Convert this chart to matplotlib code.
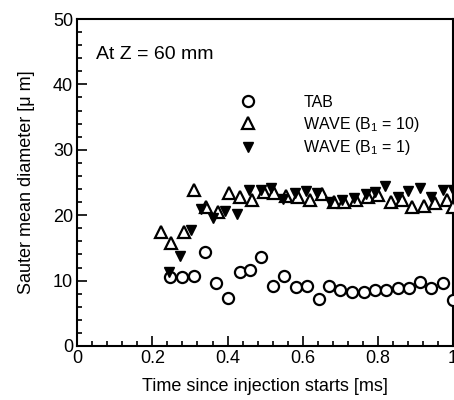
import matplotlib
matplotlib.use("Agg")
import matplotlib.pyplot as plt

plt.rcParams["font.family"] = ["Liberation Sans", "DejaVu Sans"]
plt.rcParams["mathtext.fontset"] = "custom"
plt.rcParams["mathtext.rm"] = "Liberation Sans"
plt.rcParams["mathtext.it"] = "Liberation Sans"

# TAB model (open circles)
tab_t = [0.247, 0.280, 0.312, 0.340, 0.369, 0.402, 0.432, 0.460, 0.490, 0.521,
         0.551, 0.581, 0.611, 0.642, 0.671, 0.700, 0.730, 0.763, 0.793, 0.822,
         0.853, 0.884, 0.912, 0.941, 0.973, 1.000]
tab_d = [10.6, 10.6, 10.7, 14.4, 9.7, 7.4, 11.3, 11.6, 13.6, 9.2,
         10.7, 9.0, 9.1, 7.2, 9.1, 8.5, 8.3, 8.3, 8.5, 8.5,
         8.8, 8.8, 9.8, 8.9, 9.7, 7.0]

# WAVE, B1 = 10 (open triangles)
wave10_t = [0.222, 0.250, 0.283, 0.312, 0.344, 0.375, 0.404, 0.434, 0.466, 0.497,
            0.524, 0.556, 0.588, 0.619, 0.651, 0.682, 0.710, 0.741, 0.773, 0.800,
            0.836, 0.863, 0.890, 0.922, 0.953, 0.985, 1.000]
wave10_d = [17.5, 15.7, 17.5, 23.8, 21.2, 20.5, 23.4, 22.8, 22.4, 23.6,
            23.4, 22.9, 22.8, 22.4, 23.3, 22.0, 22.0, 22.4, 22.8, 23.1,
            22.0, 22.4, 21.3, 21.4, 21.8, 22.3, 21.3]

# WAVE, B1 = 1 (filled down triangles)
wave1_t = [0.244, 0.274, 0.303, 0.330, 0.362, 0.393, 0.425, 0.457, 0.488, 0.515,
           0.547, 0.579, 0.610, 0.637, 0.673, 0.705, 0.737, 0.768, 0.791, 0.818,
           0.854, 0.881, 0.913, 0.940, 0.972, 0.999]
wave1_d = [11.3, 13.7, 17.8, 20.9, 19.5, 20.7, 20.2, 23.9, 23.9, 24.2,
           22.5, 23.4, 23.7, 23.4, 22.0, 22.4, 22.7, 23.2, 23.6, 24.4,
           22.8, 23.7, 24.2, 22.8, 23.9, 23.9]

fig = plt.figure(figsize=(4.54, 4.0), dpi=100)
ax = fig.add_axes([0.170, 0.135, 0.828, 0.8175])

ax.plot(tab_t, tab_d, "o", ms=8, mfc="white", mec="black", mew=1.6,
        ls="none", label="TAB", clip_on=False, zorder=3)
ax.plot(wave10_t, wave10_d, "^", ms=8, mfc="white", mec="black", mew=1.6,
        ls="none", label=r"WAVE (B$_1$ = 10)", clip_on=False, zorder=4)
ax.plot(wave1_t, wave1_d, "v", ms=7.5, mfc="black", mec="black", mew=1,
        ls="none", label=r"WAVE (B$_1$ = 1)", clip_on=False, zorder=5)

ax.set_xlim(0, 1)
ax.set_ylim(0, 50)
ax.set_xticks([0, 0.2, 0.4, 0.6, 0.8, 1.0])
ax.set_xticklabels(["0", "0.2", "0.4", "0.6", "0.8", "1"])
ax.set_yticks([0, 10, 20, 30, 40, 50])
ax.set_xticks([i * 0.04 for i in range(26)], minor=True)
ax.set_yticks(range(0, 51, 2), minor=True)
ax.tick_params(which="both", direction="in", top=False, right=False,
               labelsize=13, width=1.2)
ax.tick_params(which="major", length=7, pad=3)
ax.tick_params(which="minor", length=3.5)
for s in ax.spines.values():
    s.set_linewidth(1.5)

ax.set_xlabel("Time since injection starts [ms]", fontsize=13, labelpad=8)
ax.set_ylabel("Sauter mean diameter [\u03bc m]", fontsize=13, labelpad=13)

ax.text(0.05, 0.89, "At Z = 60 mm", transform=ax.transAxes, fontsize=14,
        va="center", ha="left")

ax.legend(loc="upper left", bbox_to_anchor=(0.432, 0.768), frameon=False,
          fontsize=11.5, handlelength=1.0, handletextpad=3.0, labelspacing=0.3,
          borderaxespad=0, borderpad=0)

fig.savefig("out.png", dpi=100)
